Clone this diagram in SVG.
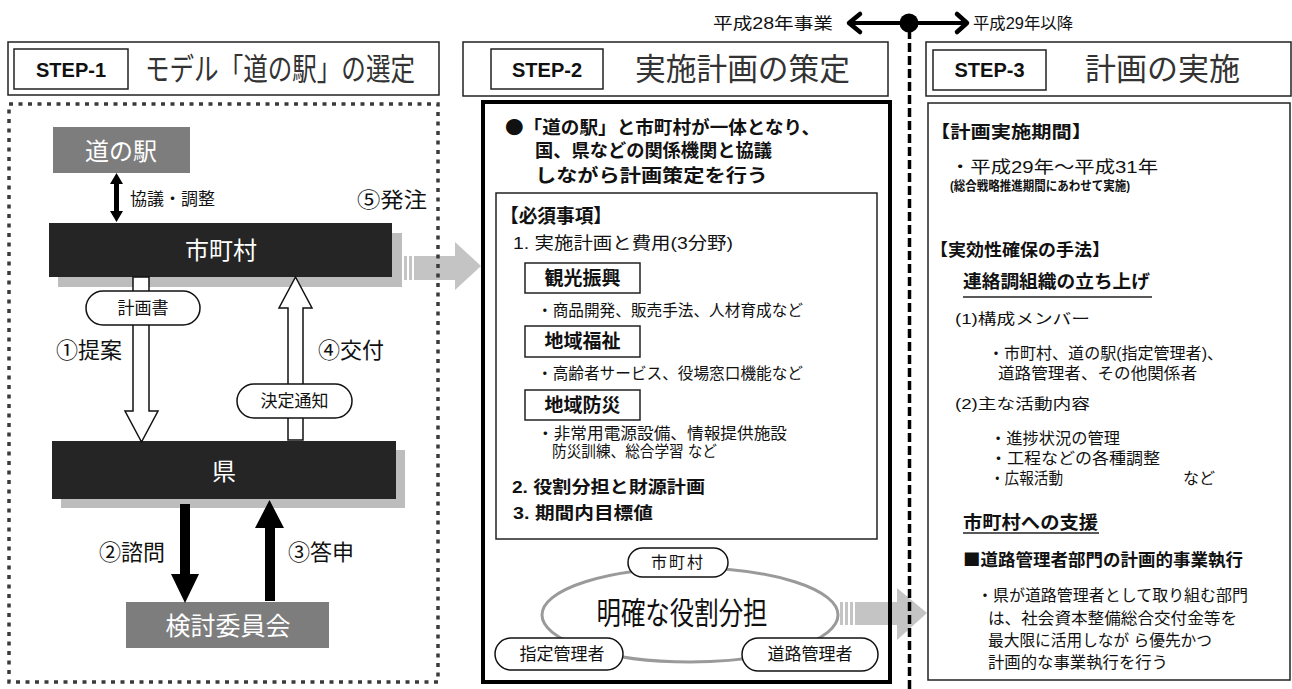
<svg xmlns="http://www.w3.org/2000/svg" width="1292" height="689" viewBox="0 0 1292 689">
<style>
text{font-family:"Liberation Sans","Noto Sans CJK JP",sans-serif;fill:#111;dominant-baseline:central}
.cjk{font-family:"Noto Sans CJK JP","Liberation Sans",sans-serif}
.b{font-weight:bold}
.t{font-size:31px;fill:#333}
.step{font-size:20px;font-weight:bold}
.w{fill:#fff}
.box{fill:#fff;stroke:#222;stroke-width:1.5}
.nf{fill:none;stroke:#222;stroke-width:1.5}
.pill{fill:#fff;stroke:#111;stroke-width:1.5}
.dark{fill:#252525}
.grey{fill:#7d7d7d}
.shadow{fill:#bdbdbd}
.hollow{fill:#fff;stroke:#111;stroke-width:1.5;stroke-linejoin:miter}
.solid{fill:#000}
.garrow{fill:#c4c4c4}
</style>
<rect width="1292" height="689" fill="#fff"/>

<!-- connectors (under boxes) -->
<g id="connectors">
  <g id="arrow-1-2">
    <rect x="404" y="256" width="3" height="24" class="garrow"/>
    <rect x="409" y="256" width="3" height="24" class="garrow"/>
    <polygon points="414,256 455,256 455,242 481,266 455,290 455,280 414,280" class="garrow"/>
  </g>
  <g id="arrow-2-3">
    <rect x="840" y="602" width="3" height="23" class="garrow"/>
    <rect x="845" y="602" width="3" height="23" class="garrow"/>
    <rect x="850" y="602" width="3" height="23" class="garrow"/>
    <polygon points="855,602 897,602 897,588 927,613 897,640 897,625 855,625" class="garrow"/>
  </g>
  <g id="timeline">
    <line x1="909.5" y1="30" x2="909.5" y2="689" stroke="#000" stroke-width="3.5" stroke-dasharray="9 4"/>
    <line x1="851" y1="23" x2="965" y2="23" stroke="#000" stroke-width="4"/>
    <polyline points="860,14 849,23 860,32" fill="none" stroke="#000" stroke-width="4.5" stroke-linecap="round" stroke-linejoin="round"/>
    <polyline points="957,14 967,23 957,32" fill="none" stroke="#000" stroke-width="4.5" stroke-linecap="round" stroke-linejoin="round"/>
    <circle cx="909" cy="23" r="9.5" fill="#000"/>
  </g>
</g>
<text x="713" y="23" style="font-size:16px" textLength="120" lengthAdjust="spacingAndGlyphs">平成28年事業</text>
<text x="973" y="23" style="font-size:16px" textLength="100" lengthAdjust="spacingAndGlyphs">平成29年以降</text>

<!-- STEP-1 -->
<g id="step1-header">
  <rect x="8" y="42" width="431" height="53" class="nf"/>
  <rect x="14" y="49" width="114" height="40" class="box"/>
  <text x="71" y="70" class="step" text-anchor="middle">STEP-1</text>
  <text x="145" y="69" class="t" textLength="270" lengthAdjust="spacingAndGlyphs">モデル「道の駅」の選定</text>
</g>
<rect id="step1-panel" x="9" y="104" width="429" height="578" fill="none" stroke="#3a3a3a" stroke-width="3.5" stroke-dasharray="4 5.5"/>

<g id="michinoeki">
  <rect x="53" y="127" width="137" height="46" class="grey"/>
  <text x="121" y="151" class="w" style="font-size:24px" text-anchor="middle">道の駅</text>
</g>
<g id="kyogi">
  <polygon points="114,184 110,184 116.5,173 123,184 119,184 119,211 123,211 116.5,222 110,211 114,211" class="solid"/>
  <text x="130" y="199" style="font-size:17px">協議・調整</text>
</g>
<text id="hacchu" x="357" y="199" style="font-size:21px" textLength="70" lengthAdjust="spacingAndGlyphs">⑤発注</text>

<g id="shichoson">
  <rect x="58" y="233" width="344" height="54" class="shadow"/>
  <rect x="49" y="223" width="343" height="54" class="dark"/>
  <text x="221" y="250" class="w" style="font-size:24px" text-anchor="middle">市町村</text>
</g>
<g id="ken">
  <rect x="61" y="450" width="344" height="58" class="shadow"/>
  <rect x="52" y="441" width="344" height="58" class="dark"/>
  <text x="224" y="471" class="w" style="font-size:24px" text-anchor="middle">県</text>
</g>
<g id="kentou">
  <rect x="126" y="602" width="203" height="46" class="grey"/>
  <text x="228" y="626" class="w" style="font-size:25px" text-anchor="middle">検討委員会</text>
</g>

<g id="step1-arrows">
  <polygon points="133,277 149,277 149,411 158,411 141.5,442 125,411 133,411" class="hollow"/>
  <polygon points="288,440 303,440 303,308 312,308 295.5,277 279,308 288,308" class="hollow"/>
  <polygon points="180,504 190,504 190,574 199,574 185,603 171,574 180,574" class="solid"/>
  <polygon points="265,601 275,601 275,528 284,528 269.5,500 255,528 265,528" class="solid"/>
</g>
<g id="keikakusho">
  <rect x="86" y="291" width="114" height="34" rx="17" class="pill"/>
  <text x="143" y="308" style="font-size:17px" text-anchor="middle">計画書</text>
</g>
<g id="kettei">
  <rect x="237" y="384" width="115" height="34" rx="17" class="pill"/>
  <text x="294.5" y="401" style="font-size:17px" text-anchor="middle">決定通知</text>
</g>
<text x="56" y="350" style="font-size:22px">①提案</text>
<text x="318" y="350" style="font-size:22px">④交付</text>
<text x="99" y="552" style="font-size:22px">②諮問</text>
<text x="288" y="552" style="font-size:22px">③答申</text>

<!-- STEP-2 -->
<g id="step2-header">
  <rect x="463" y="42" width="425" height="54" class="nf"/>
  <rect x="491" y="49" width="112" height="40" class="box"/>
  <text x="547" y="70" class="step" text-anchor="middle">STEP-2</text>
  <text x="635" y="69" class="t" textLength="215" lengthAdjust="spacingAndGlyphs">実施計画の策定</text>
</g>
<g id="step2-panel">
  <rect x="483" y="102" width="407" height="580" fill="none" stroke="#000" stroke-width="4"/>
  <text x="505" y="126" class="b cjk" style="font-size:18px" textLength="315" lengthAdjust="spacingAndGlyphs">●「道の駅」と市町村が一体となり、</text>
  <text x="535" y="151" class="b" style="font-size:18px" textLength="237" lengthAdjust="spacingAndGlyphs">国、県などの関係機関と協議</text>
  <text x="535" y="176" class="b" style="font-size:18px" textLength="233" lengthAdjust="spacingAndGlyphs">しながら計画策定を行う</text>
</g>
<g id="hissu">
  <rect x="496" y="193" width="381" height="346" class="nf"/>
  <text x="500" y="216" class="b" style="font-size:19px" textLength="112" lengthAdjust="spacingAndGlyphs">【必須事項】</text>
  <text x="513" y="243" style="font-size:17px" textLength="220" lengthAdjust="spacingAndGlyphs">1. 実施計画と費用(3分野)</text>
  <rect x="525" y="263" width="115" height="30" class="box"/>
  <text x="582.5" y="278" class="b" style="font-size:19px" text-anchor="middle">観光振興</text>
  <text x="537" y="310" style="font-size:16px" textLength="266" lengthAdjust="spacingAndGlyphs">・商品開発、販売手法、人材育成など</text>
  <rect x="525" y="326" width="115" height="31" class="box"/>
  <text x="582.5" y="341.5" class="b" style="font-size:19px" text-anchor="middle">地域福祉</text>
  <text x="537" y="373" style="font-size:16px" textLength="266" lengthAdjust="spacingAndGlyphs">・高齢者サービス、役場窓口機能など</text>
  <rect x="525" y="390" width="115" height="30" class="box"/>
  <text x="582.5" y="405" class="b" style="font-size:19px" text-anchor="middle">地域防災</text>
  <text x="537" y="433" style="font-size:16px" textLength="250" lengthAdjust="spacingAndGlyphs">・非常用電源設備、情報提供施設</text>
  <text x="552" y="451" style="font-size:16px" textLength="165" lengthAdjust="spacingAndGlyphs">防災訓練、総合学習  など</text>
  <text x="512" y="487" class="b" style="font-size:17px" textLength="193" lengthAdjust="spacingAndGlyphs">2. 役割分担と財源計画</text>
  <text x="513" y="513" class="b" style="font-size:17px" textLength="140" lengthAdjust="spacingAndGlyphs">3. 期間内目標値</text>
</g>
<g id="yakuwari">
  <ellipse cx="690" cy="615" rx="148" ry="47" fill="none" stroke="#9a9a9a" stroke-width="3"/>
  <text x="682" y="613" style="font-size:31px" text-anchor="middle" textLength="171" lengthAdjust="spacingAndGlyphs">明確な役割分担</text>
</g>
<g id="pill-shichoson">
  <rect x="628" y="548" width="100" height="29" rx="14.5" class="pill"/>
  <text x="678" y="562.5" style="font-size:16px" text-anchor="middle" letter-spacing="2">市町村</text>
</g>
<g id="pill-shitei">
  <rect x="495" y="638" width="128" height="32" rx="16" class="pill"/>
  <text x="562" y="654" style="font-size:17px" text-anchor="middle">指定管理者</text>
</g>
<g id="pill-doro">
  <rect x="742" y="638" width="136" height="33" rx="16.5" class="pill"/>
  <text x="810" y="654.5" style="font-size:17px" text-anchor="middle">道路管理者</text>
</g>

<!-- STEP-3 -->
<g id="step3-header">
  <rect x="926" y="42" width="365" height="54" class="nf"/>
  <rect x="933" y="50" width="113" height="40" class="box"/>
  <text x="989.5" y="70" class="step" text-anchor="middle">STEP-3</text>
  <text x="1085" y="69" class="t" textLength="155" lengthAdjust="spacingAndGlyphs">計画の実施</text>
</g>
<g id="step3-panel">
  <rect x="928" y="103" width="362" height="577" class="nf"/>
  <text x="930" y="132" class="b" style="font-size:17px" textLength="162" lengthAdjust="spacingAndGlyphs">【計画実施期間】</text>
  <text x="950" y="167" style="font-size:17px" textLength="208" lengthAdjust="spacingAndGlyphs">・平成29年～平成31年</text>
  <text x="950" y="185" class="b" style="font-size:13px" textLength="180" lengthAdjust="spacingAndGlyphs">(総合戦略推進期間にあわせて実施)</text>
  <text x="930" y="250" class="b" style="font-size:17px" textLength="180" lengthAdjust="spacingAndGlyphs">【実効性確保の手法】</text>
  <text x="963" y="282" class="b" style="font-size:18px" textLength="187" lengthAdjust="spacingAndGlyphs">連絡調組織の立ち上げ</text>
  <line x1="963" y1="297" x2="1152" y2="297" stroke="#222" stroke-width="1.5"/>
  <text x="955" y="318" style="font-size:15px" textLength="135" lengthAdjust="spacingAndGlyphs">(1)構成メンバー</text>
  <text x="988" y="353" style="font-size:16px" textLength="235" lengthAdjust="spacingAndGlyphs">・市町村、道の駅(指定管理者)、</text>
  <text x="998" y="373" style="font-size:16px" textLength="199" lengthAdjust="spacingAndGlyphs">道路管理者、その他関係者</text>
  <text x="955" y="403" style="font-size:15px" textLength="135" lengthAdjust="spacingAndGlyphs">(2)主な活動内容</text>
  <text x="990" y="438" style="font-size:16px" textLength="130" lengthAdjust="spacingAndGlyphs">・進捗状況の管理</text>
  <text x="990" y="458" style="font-size:16px" textLength="170" lengthAdjust="spacingAndGlyphs">・工程などの各種調整</text>
  <text x="990" y="478" style="font-size:16px" textLength="73" lengthAdjust="spacingAndGlyphs">・広報活動</text>
  <text x="1183" y="478" style="font-size:16px">など</text>
  <text x="963" y="523" class="b" style="font-size:18px" textLength="135" lengthAdjust="spacingAndGlyphs">市町村への支援</text>
  <line x1="963" y1="533" x2="1099" y2="533" stroke="#222" stroke-width="1.5"/>
  <text x="963" y="558" class="b cjk" style="font-size:17px" textLength="280" lengthAdjust="spacingAndGlyphs">■道路管理者部門の計画的事業執行</text>
  <text x="977" y="595" style="font-size:16px" textLength="271" lengthAdjust="spacingAndGlyphs">・県が道路管理者として取り組む部門</text>
  <text x="988" y="618" style="font-size:16px" textLength="249" lengthAdjust="spacingAndGlyphs">は、社会資本整備総合交付金等を</text>
  <text x="988" y="640" style="font-size:16px" textLength="224" lengthAdjust="spacingAndGlyphs">最大限に活用しなが ら優先かつ</text>
  <text x="988" y="662" style="font-size:16px" textLength="180" lengthAdjust="spacingAndGlyphs">計画的な事業執行を行う</text>
</g>
</svg>
